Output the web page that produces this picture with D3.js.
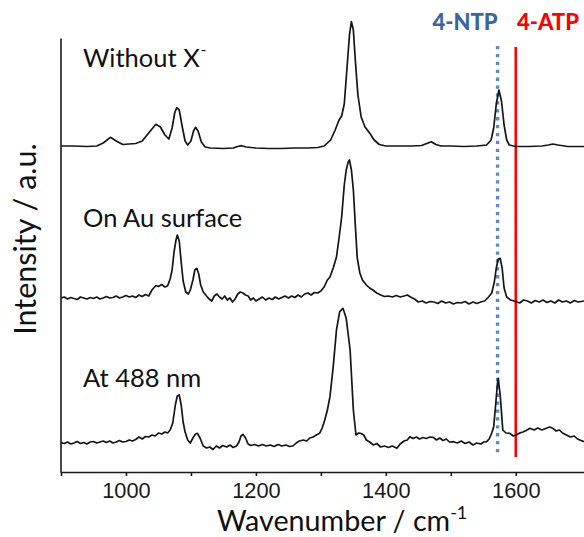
<!DOCTYPE html>
<html>
<head>
<meta charset="utf-8">
<script src="https://cdn.jsdelivr.net/npm/d3@7"></script>
<style>
  html, body { margin: 0; padding: 0; background: #fff; }
  svg { display: block; }
</style>
</head>
<body>
<svg id="chart" width="584" height="537"></svg>
<script>
// Raman spectra, [wavenumber (cm-1), intensity (a.u.)]
const spectrumWithoutX = [
  [900,26],[920,26],[940,25.5],[955,26],[965,29],[976,34.7],[985,31],[995,27.5],[1005,28],[1015,28.5],
  [1025,31],[1035,39],[1046,47.7],[1053,45],[1060,37],[1066,33],[1071,44],[1075,59],[1078,64.3],[1082,62],
  [1087,44],[1091,31],[1095,27],[1100,31],[1104,41],[1107,44.7],[1111,41],[1116,30],[1122,25],[1130,24],
  [1150,23.5],[1165,24],[1172,25.5],[1178,26.3],[1185,25],[1200,24],[1220,23.5],[1240,23.5],[1260,24],[1280,24],
  [1295,24.5],[1305,26],[1315,32],[1322,42],[1328,52],[1332,56],[1336,68],[1340,102],[1344,137],[1347,150.3],
  [1350,142],[1353,112],[1357,77],[1362,55],[1368,45],[1375,39],[1382,32],[1390,27.5],[1400,26],[1420,26],
  [1440,26],[1455,26.5],[1463,28.5],[1470,30.3],[1477,27.5],[1485,26],[1500,26],[1520,25.5],[1540,26],[1555,27],
  [1562,32],[1566,44],[1570,68],[1574,82],[1578,71],[1582,47],[1586,32],[1590,27],[1600,25.5],[1620,25.5],
  [1640,26],[1650,27],[1657,28],[1665,27],[1680,25.5],[1705,25.5]
];

const spectrumAuSurface = [
  [900,24],[905,25],[910,23],[915,24.5],[920,23.5],[925,22.5],[930,25],[935,24],[940,23],[945,24.5],
  [950,23.5],[955,25],[960,23],[965,24],[970,25.5],[975,24],[980,24.5],[985,26],[990,24],[995,25],
  [1000,26.5],[1005,25],[1010,26],[1015,24.5],[1020,27],[1025,25.5],[1030,27.5],[1035,26],[1040,32],[1046,36.5],
  [1050,35.5],[1055,37.5],[1060,35],[1064,36],[1068,43],[1071,52],[1074,70],[1077,82],[1079,87],[1082,81],
  [1085,60],[1088,41],[1092,30],[1096,28],[1099,32],[1103,42],[1106,52],[1109,53.7],[1112,48],[1115,37],
  [1119,30],[1124,26],[1128,23],[1132,21],[1136,26],[1140,28],[1144,25],[1148,23],[1152,26],[1156,22],
  [1160,24],[1164,20],[1168,23],[1172,28],[1176,30],[1180,29],[1184,27],[1188,26],[1192,22],[1196,24],
  [1200,21],[1205,23],[1210,25],[1215,22],[1220,24],[1225,22.5],[1230,25],[1235,23],[1240,24.5],[1245,26],
  [1250,24],[1255,26],[1260,24.5],[1265,27],[1270,25],[1275,28],[1280,29],[1285,27],[1290,29.5],[1295,29],
  [1300,31],[1305,35],[1310,42],[1314,45],[1319,54],[1324,65],[1328,84],[1332,105],[1336,137],[1339,152],
  [1342,160],[1344,162],[1347,152],[1350,132],[1353,97],[1356,64],[1360,49],[1364,42],[1370,37],[1375,34],
  [1380,32],[1386,29],[1392,27],[1398,25.5],[1404,26],[1410,25],[1416,26.5],[1422,25],[1428,26],[1433,27],
  [1438,25],[1444,23],[1450,20],[1456,21],[1462,19],[1468,20.5],[1474,20],[1480,18.5],[1486,21],[1492,19],
  [1498,20],[1504,18],[1510,19.5],[1516,19],[1522,20.5],[1528,18],[1534,20],[1540,18.5],[1546,20],[1552,21],
  [1558,25],[1563,29],[1567,40],[1570,54],[1573,63],[1576,63.7],[1579,54],[1582,34],[1586,25],[1592,22],
  [1600,20.5],[1606,19],[1612,22],[1618,21],[1624,19],[1630,21.5],[1636,20],[1642,22],[1648,19.5],[1654,21],
  [1660,19],[1666,22],[1672,20],[1678,21],[1684,19],[1690,21.5],[1696,20],[1705,21]
];

const spectrum488 = [
  [900,29.3],[905,28.5],[910,30],[915,28],[920,29],[925,30.5],[930,28.5],[935,29.5],[940,28],[945,30],
  [950,30.5],[955,29],[960,30],[965,31],[970,29.5],[975,31],[980,29],[985,30],[990,31.5],[995,30],
  [1000,30.5],[1005,32],[1010,31],[1015,32.5],[1020,35],[1025,33],[1030,35.5],[1035,35],[1040,37],[1045,36],
  [1050,39],[1055,38],[1060,40],[1064,39],[1068,42],[1072,49],[1076,67],[1079,76],[1082,77],[1085,67],
  [1088,50],[1091,40],[1095,32],[1099,29],[1103,34],[1107,38],[1110,38.7],[1114,34],[1119,26],[1124,24],
  [1129,25],[1134,22.5],[1139,26],[1144,24],[1149,26.5],[1155,25],[1160,27],[1165,24.5],[1170,26],[1174,30],
  [1177,36],[1180,37.7],[1184,34],[1188,28],[1192,26.5],[1198,27.5],[1204,26],[1210,27.5],[1216,26],[1222,27],
  [1228,25.5],[1234,27.5],[1240,26],[1246,27],[1252,25.5],[1257,26],[1262,29],[1267,31],[1273,32],[1278,31],
  [1283,34],[1288,35],[1293,37],[1298,38.7],[1302,44],[1306,52],[1310,62],[1314,75.3],[1319,105.3],[1324,142],
  [1329,160.3],[1334,163.7],[1339,153.7],[1345,122],[1350,62],[1354,37],[1358,39],[1362,38.5],[1366,37],[1370,32],
  [1375,30],[1381,27],[1386,28.5],[1392,25],[1398,26],[1404,24.5],[1410,26],[1417,23.7],[1422,28],[1428,31],
  [1433,32],[1437,35.3],[1442,33.5],[1447,35],[1452,33],[1457,34.5],[1462,33.5],[1468,35],[1473,34.7],[1478,32],
  [1483,34],[1488,31.5],[1493,33],[1498,30],[1504,30.3],[1510,29],[1516,31],[1522,28.5],[1528,30],[1534,27],
  [1540,29],[1546,28],[1551,30],[1555,30.3],[1559,33],[1563,39],[1566,45.3],[1569,67],[1572,90],[1573,93.7],
  [1576,77],[1580,42],[1585,39],[1591,38.7],[1596,36],[1601,37],[1606,39],[1611,40],[1616,41.5],[1622,43.7],
  [1628,42],[1634,44],[1640,42],[1646,43.5],[1652,45],[1657,43.7],[1662,41],[1667,42],[1672,39],[1678,37],
  [1684,35],[1690,36],[1695,33],[1705,30.3]
];

const spectra = [spectrumWithoutX, spectrumAuSurface, spectrum488];
const spectrumNames = ["Without X", "On Au surface", "At 488 nm"];
const stackOffsets = [300, 150, 0];           // vertical offset of each trace (a.u.)
const tickValues = [900, 1000, 1100, 1200, 1300, 1400, 1500, 1600];
const labeledTicks = [1000, 1200, 1400, 1600];
const markerNames = ["4-NTP", "4-ATP"];
const markerPositions = [1572, 1600];         // cm-1

const svg = d3.select("#chart");

const x = d3.scaleLinear().domain([900, 1705]).range([61, 584]);
const y = d3.scaleLinear().domain([0, 434]).range([472, 38]);

const calibriLike = "Lato, 'Open Sans', sans-serif";

// marker lines for the two reference bands
svg.append("line")
  .attr("x1", x(markerPositions[0])).attr("x2", x(markerPositions[0]))
  .attr("y1", y(426)).attr("y2", y(17))
  .attr("stroke", "#5b8ac6").attr("stroke-width", 3.4)
  .attr("stroke-dasharray", "3.3,4.6");

svg.append("line")
  .attr("x1", x(markerPositions[1])).attr("x2", x(markerPositions[1]))
  .attr("y1", y(425)).attr("y2", y(15))
  .attr("stroke", "#ff0000").attr("stroke-width", 2.6);

// spectra
const line = d3.line()
  .x(d => x(d[0]))
  .curve(d3.curveLinear);

spectra.forEach((data, i) => {
  svg.append("path")
    .datum(data)
    .attr("fill", "none")
    .attr("stroke", "#151515")
    .attr("stroke-width", 1.7)
    .attr("stroke-linejoin", "round")
    .attr("d", line.y(d => y(d[1] + stackOffsets[i])));
});

// axes
const xAxis = d3.axisBottom(x)
  .tickValues(tickValues)
  .tickSize(4)
  .tickSizeOuter(0)
  .tickPadding(6.5)
  .tickFormat(d => labeledTicks.includes(d) ? d : "");

const gx = svg.append("g")
  .attr("transform", `translate(0,${y(0)})`)
  .call(xAxis);
gx.select(".domain").attr("stroke", "#1a1a1a").attr("stroke-width", 1.6);
gx.selectAll(".tick line").attr("stroke", "#1a1a1a").attr("stroke-width", 1.6);
gx.selectAll(".tick text")
  .attr("fill", "#1a1a1a")
  .style("font-family", "'Liberation Sans', Arial, sans-serif")
  .style("font-size", "21.8px");

const yAxis = d3.axisLeft(y).tickValues([]).tickSizeOuter(0);
const gy = svg.append("g")
  .attr("transform", `translate(${x(900) - 0.5},0)`)
  .call(yAxis);
gy.select(".domain").attr("stroke", "#1a1a1a").attr("stroke-width", 1.6);

// axis titles
const xTitle = svg.append("text")
  .attr("x", 217).attr("y", 531)
  .style("font-family", calibriLike)
  .style("font-size", "28.7px")
  .attr("fill", "#111");
xTitle.append("tspan").text("Wavenumber / cm");
xTitle.append("tspan").attr("dy", -12).style("font-size", "18px").text("-1");

svg.append("text")
  .attr("transform", "translate(36,239) rotate(-90)")
  .attr("text-anchor", "middle")
  .style("font-family", calibriLike)
  .style("font-size", "30.5px")
  .attr("fill", "#111")
  .text("Intensity / a.u.");

// trace labels
const labelBaselines = [67, 227, 387];
spectrumNames.forEach((name, i) => {
  const t = svg.append("text")
    .attr("x", 83).attr("y", labelBaselines[i])
    .style("font-family", calibriLike)
    .style("font-size", "25.5px")
    .attr("fill", "#111");
  t.append("tspan").text(name);
  if (i === 0) {
    t.append("tspan").attr("dy", -12).attr("dx", 1).style("font-size", "15px").text("-");
  }
});

// band labels
svg.append("text")
  .attr("x", 465).attr("y", 30)
  .attr("text-anchor", "middle")
  .style("font-family", calibriLike)
  .style("font-size", "22px").style("font-weight", "900")
  .attr("fill", "#3c659d")
  .text(markerNames[0]);

svg.append("text")
  .attr("x", 548).attr("y", 30)
  .attr("text-anchor", "middle")
  .style("font-family", calibriLike)
  .style("font-size", "22px").style("font-weight", "900")
  .attr("fill", "#ff0000")
  .text(markerNames[1]);
</script>
</body>
</html>
